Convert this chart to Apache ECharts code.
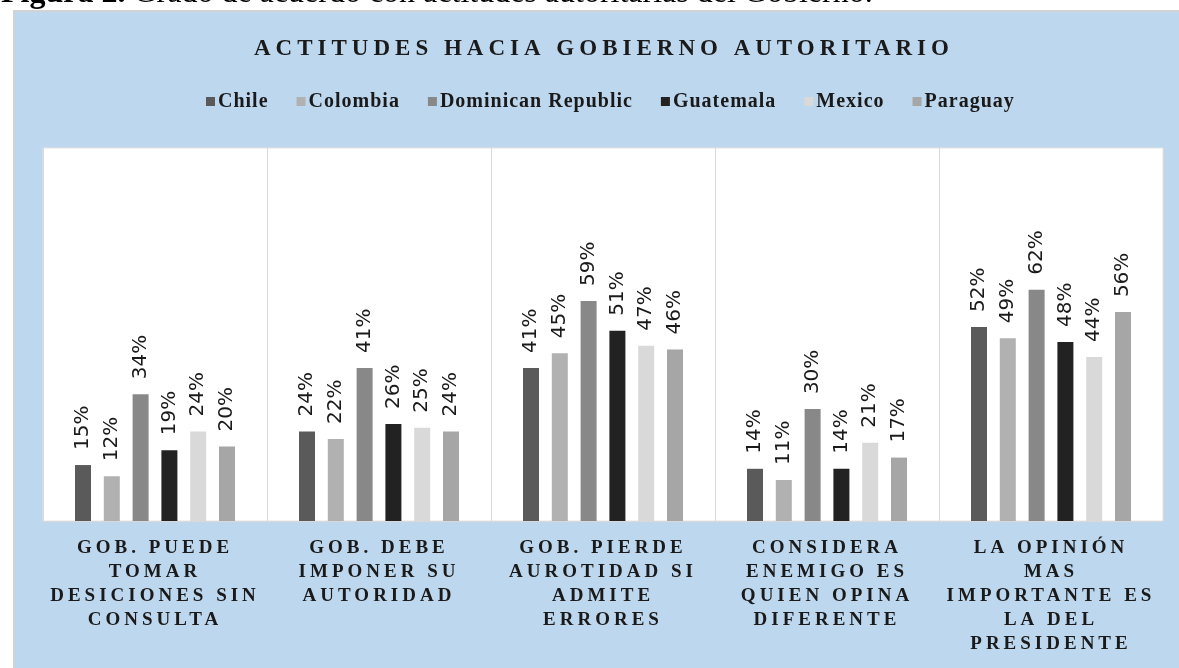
<!DOCTYPE html>
<html>
<head>
<meta charset="utf-8">
<script src="https://cdn.jsdelivr.net/npm/echarts@6/dist/echarts.min.js"></script>
<style>
  html, body { margin: 0; padding: 0; background: #ffffff; overflow: hidden; }
  #chart { width: 1179px; height: 668px; }
</style>
</head>
<body>
<div id="chart"></div>
<script>
// ---- Data ----
const categories = [
  'GOB. PUEDE\nTOMAR\nDESICIONES SIN\nCONSULTA',
  'GOB. DEBE\nIMPONER SU\nAUTORIDAD',
  'GOB. PIERDE\nAUROTIDAD SI\nADMITE\nERRORES',
  'CONSIDERA\nENEMIGO ES\nQUIEN OPINA\nDIFERENTE',
  'LA OPINIÓN\nMAS\nIMPORTANTE ES\nLA DEL\nPRESIDENTE'
];
const countries = ['Chile', 'Colombia', 'Dominican Republic', 'Guatemala', 'Mexico', 'Paraguay'];
const chile     = [15, 24, 41, 14, 52];
const colombia  = [12, 22, 45, 11, 49];
const dominican = [34, 41, 59, 30, 62];
const guatemala = [19, 26, 51, 14, 48];
const mexico    = [24, 25, 47, 21, 44];
const paraguay  = [20, 24, 46, 17, 56];
const seriesValues = [chile, colombia, dominican, guatemala, mexico, paraguay];
const chartTitle = 'ACTITUDES HACIA GOBIERNO AUTORITARIO';
const captionBold = 'Figura 2.';
const captionText = ' Grado de acuerdo con actitudes autoritarias del Gobierno.';

// ---- letter-spacing support for fonts tagged with "LSn" ----
(function () {
  const P = CanvasRenderingContext2D.prototype;
  if (!('letterSpacing' in P)) return;
  const f = P.fillText, m = P.measureText;
  function ls(ctx) {
    const r = /LS(\d+)/.exec(ctx.font);
    ctx.letterSpacing = r ? r[1] + 'px' : '0px';
  }
  P.fillText = function () { ls(this); return f.apply(this, arguments); };
  P.measureText = function () { ls(this); return m.apply(this, arguments); };
})();

const colors = ['#5a5a5a', '#b1b1b1', '#888888', '#222222', '#d9d9d9', '#a6a6a6'];

const chart = echarts.init(document.getElementById('chart'), null, { renderer: 'canvas' });

const option = {
  animation: false,
  color: colors,
  graphic: [
    {
      type: 'rect', z: -100,
      shape: { x: 14, y: 11, width: 1200, height: 700 },
      style: { fill: '#BDD7EE', stroke: '#d3d3d3', lineWidth: 2 }
    },
    {
      type: 'text', z: -90,
      style: {
        x: 1, y: -6, verticalAlign: 'middle',
        text: '{b|' + captionBold + '}{r|' + captionText + '}',
        rich: {
          b: { fontFamily: "'Liberation Serif'", fontWeight: 'bold', fontSize: 32, fill: '#000' },
          r: { fontFamily: "'Liberation Serif'", fontWeight: 'normal', fontSize: 32, fill: '#000' }
        }
      }
    }
  ],
  title: {
    text: chartTitle,
    left: 249,
    top: 30,
    textStyle: {
      fontFamily: "'Liberation Serif', LS5",
      fontWeight: 'bold',
      fontSize: 23,
      color: '#1a1a1a'
    }
  },
  legend: {
    data: countries,
    left: 201,
    top: 86,
    icon: 'rect',
    itemWidth: 9,
    itemHeight: 9,
    itemGap: 28,
    textStyle: {
      fontFamily: "'Liberation Serif', LS1",
      fontWeight: 'bold',
      fontSize: 20,
      color: '#1a1a1a',
      padding: [0, 0, 0, -2]
    }
  },
  grid: {
    left: 43, right: 16, top: 148, bottom: 147,
    show: true,
    backgroundColor: '#ffffff',
    borderColor: '#e4e4e4',
    borderWidth: 1,
    containLabel: false,
    outerBoundsMode: 'none'
  },
  xAxis: {
    type: 'category',
    data: categories,
    axisLine: { lineStyle: { color: '#d9d9d9', width: 1 } },
    axisTick: { show: false },
    splitLine: { show: true, lineStyle: { color: '#d9d9d9', width: 1 } },
    axisLabel: {
      interval: 0,
      margin: 15,
      fontFamily: "'Liberation Serif', LS4",
      fontWeight: 'bold',
      fontSize: 19,
      lineHeight: 24,
      color: '#1a1a1a',
      align: 'center'
    }
  },
  yAxis: {
    type: 'value',
    min: 0, max: 100,
    show: false,
    splitLine: { show: false }
  },
  series: countries.map((name, i) => ({
    name: name,
    type: 'bar',
    data: seriesValues[i],
    barWidth: 16,
    barGap: '80%',
    itemStyle: { color: colors[i] },
    label: {
      show: true,
      position: 'top',
      rotate: 90,
      align: 'left',
      verticalAlign: 'middle',
      distance: 15,
      formatter: '{c}%',
      fontFamily: "'DejaVu Sans'",
      fontSize: 20,
      color: '#1a1a1a'
    }
  }))
};

chart.setOption(option);
</script>
</body>
</html>
